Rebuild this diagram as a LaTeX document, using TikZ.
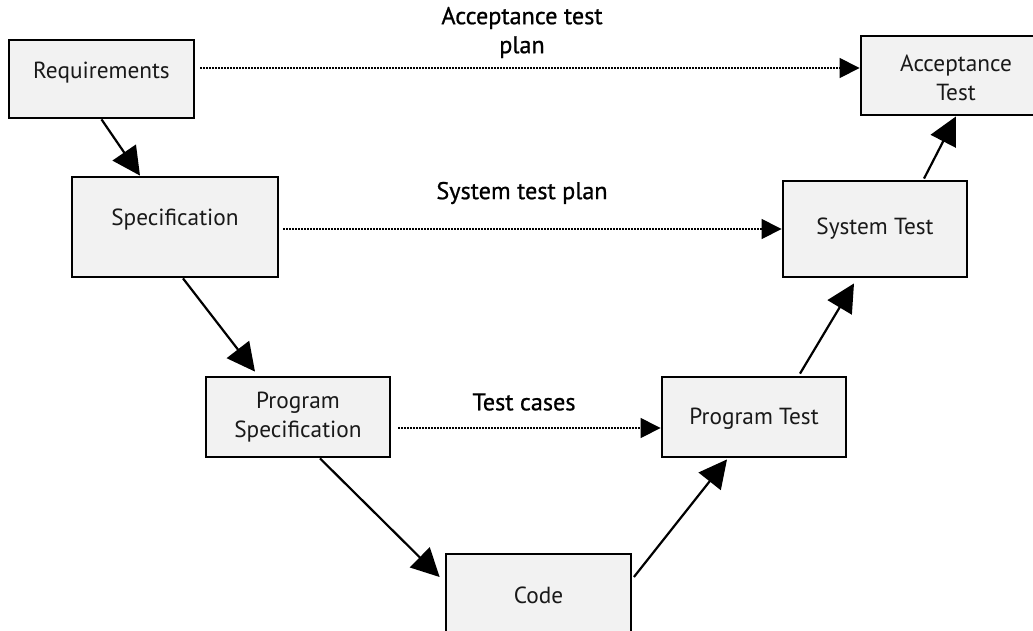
\documentclass[tikz,border=0pt]{standalone}
\usepackage{fontspec}
\setmainfont{PT Sans}
\newfontfamily\lblfont{PT Sans}[FakeBold=0.8]
\usetikzlibrary{calc,arrows.meta}
\definecolor{boxfill}{HTML}{F2F2F2}
\tikzset{
  box/.style={draw=black, line width=2.8pt, fill=boxfill, inner sep=0pt},
  boxtext/.style={font=\fontsize{23.3}{29}\selectfont, align=center, text=black!90},
  lbl/.style={font=\lblfont\fontsize{24.2}{29}\selectfont, align=center},
  flow/.style={line width=2.2pt, -{Triangle[length=28pt,width=28pt]}},
  plan/.style={line width=1.1pt, dash pattern=on 1.1pt off 1.9pt, -{Triangle[length=20pt,width=20pt]}},
}
\begin{document}
\begin{tikzpicture}[x=1pt,y=-1pt]
\useasboundingbox (0,0) rectangle (1033,630);
\clip (0,0) rectangle (1033,630);
% boxes
\node[box, minimum width=185pt, minimum height=78pt, label={[boxtext,yshift=6pt]center:Requirements}] (req) at (101.5,79) {};
\node[box, minimum width=190pt, minimum height=79pt, label={[boxtext,yshift=-2pt]center:Acceptance\\Test}] (acc) at (956,75.5) {};
\node[box, minimum width=206pt, minimum height=100pt, label={[boxtext,yshift=7pt]center:Specification}] (spec) at (175,227) {};
\node[box, minimum width=184pt, minimum height=96pt, label={[boxtext]center:System Test}] (sys) at (875,229) {};
\node[box, minimum width=184pt, minimum height=80pt, label={[boxtext]center:Program\\Specification}] (ps) at (298,417) {};
\node[box, minimum width=184pt, minimum height=80pt, label={[boxtext,yshift=-2pt]center:Program Test}] (pt) at (754,417) {};
\node[box, minimum width=185pt, minimum height=82pt, label={[boxtext]center:Code}] (code) at (538.5,595) {};
% labels
\node[lbl] (lacc) at (522,32.5) {Acceptance test\\plan};
\node[lbl] (lsys) at (522,193) {System test plan};
\node[lbl] (ltc) at (524,402) {Test cases};
% flow arrows
\draw[flow] (req.south) -- ($(spec.north)+(-35,0)$);
\draw[flow] ($(spec.south)+(8,0)$) -- ($(ps.north)+(-43,-4)$);
\draw[flow] ($(ps.south)+(22,0)$) -- ($(code.west)+(-5,-18)$);
\draw[flow] ($(code.east)+(1.5,-18)$) -- ($(pt.south)+(-27,1)$);
\draw[flow] ($(pt.north)+(46,-2)$) -- ($(sys.south)+(-21,5)$);
\draw[flow] ($(sys.north)+(49,-1)$) -- (acc.south);
% plan arrows
\draw[plan] ($(req.east)+(5,-11)$) -- ($(acc.west)+(0,-7.5)$);
\draw[plan] ($(spec.east)+(4,2)$) -- (sys.west);
\draw[plan] ($(ps.east)+(7,11)$) -- ($(pt.west)+(0,11)$);
\end{tikzpicture}
\end{document}
